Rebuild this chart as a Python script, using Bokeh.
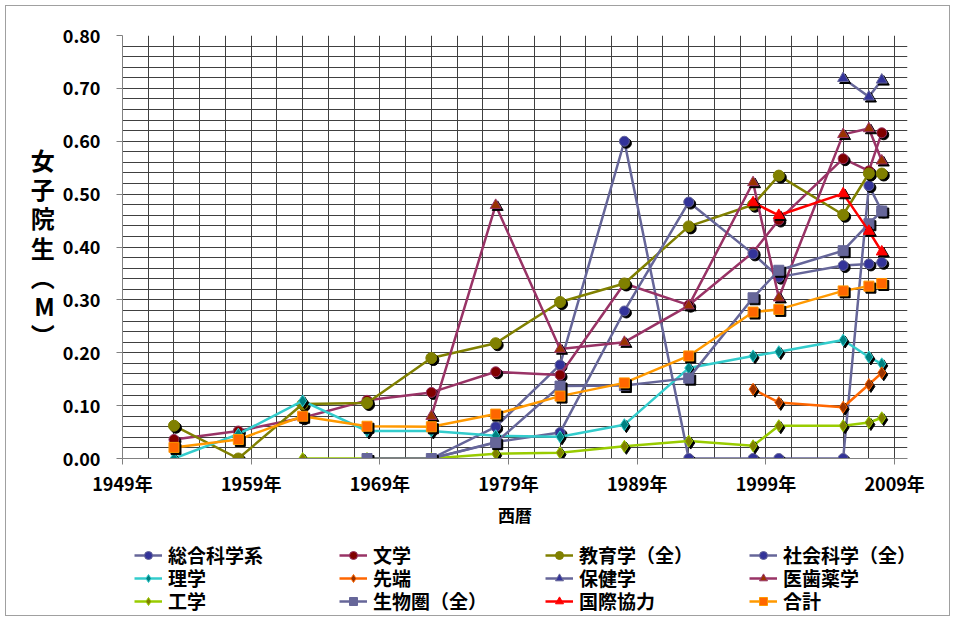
import math
from bokeh.plotting import figure
from bokeh.models import (ColumnDataSource, FixedTicker, SingleIntervalTicker,
                          PrintfTickFormatter, Legend, LegendItem)
from bokeh.transform import dodge
from bokeh.embed import file_html
from bokeh.resources import INLINE

nan = float("nan")

years = [1953, 1958, 1963, 1968, 1973, 1978, 1983, 1988, 1993, 1998, 2000, 2005, 2007, 2008]
x_ticks = [1949, 1959, 1969, 1979, 1989, 1999, 2009]

names = ["総合科学系", "文学", "教育学（全）", "社会科学（全）",
         "理学", "先端", "保健学", "医歯薬学",
         "工学", "生物圏（全）", "国際協力", "合計"]

sogo = [nan, nan, nan, nan, 0.0, 0.060, 0.177, 0.600, 0.0, 0.0, 0.0, 0.0, 0.516, 0.468]
bungaku = [0.036, 0.052, 0.077, 0.110, 0.125, 0.164, 0.158, 0.331, 0.290, 0.390, 0.451, 0.567, 0.544, 0.616]
kyoiku = [0.062, 0.0, 0.103, 0.105, 0.190, 0.218, 0.296, 0.331, 0.439, 0.480, 0.535, 0.461, 0.539, 0.539]
shakai = [nan, nan, nan, nan, 0.0, 0.031, 0.049, 0.279, 0.485, 0.387, 0.343, 0.365, 0.368, 0.371]
rigaku = [0.0, 0.046, 0.109, 0.052, 0.052, 0.043, 0.041, 0.064, 0.171, 0.194, 0.202, 0.224, 0.192, 0.179]
sentan = [nan, nan, nan, nan, nan, nan, nan, nan, nan, 0.131, 0.106, 0.097, 0.140, 0.162]
hoken = [nan, nan, nan, nan, nan, nan, nan, nan, nan, nan, nan, 0.719, 0.684, 0.716]
ishi = [nan, nan, nan, nan, 0.080, 0.479, 0.207, 0.220, 0.289, 0.522, 0.304, 0.613, 0.624, 0.563]
kogaku = [nan, nan, 0.0, 0.0, 0.0, 0.009, 0.011, 0.023, 0.033, 0.024, 0.062, 0.062, 0.068, 0.077]
seibutsu = [nan, nan, nan, 0.0, 0.0, 0.030, 0.137, 0.138, 0.152, 0.304, 0.356, 0.393, 0.444, 0.468]
kokusai = [nan, nan, nan, nan, nan, nan, nan, nan, nan, 0.484, 0.460, 0.501, 0.430, 0.391]
gokei = [0.021, 0.036, 0.080, 0.061, 0.060, 0.084, 0.118, 0.143, 0.194, 0.277, 0.282, 0.317, 0.326, 0.331]

series_values = [sogo, bungaku, kyoiku, shakai, rigaku, sentan, hoken, ishi,
                 kogaku, seibutsu, kokusai, gokei]

# style: (line color, marker, marker fill, marker edge, size)
styles = [
    ("#666699", "circle", "#333399", "#666699", 10),
    ("#993366", "circle", "#800000", "#993366", 10),
    ("#808000", "circle", "#808000", "#808000", 11),
    ("#666699", "circle", "#333399", "#666699", 10),
    ("#33CCCC", "diamond", "#008080", "#33CCCC", 12),
    ("#FF6600", "diamond", "#993300", "#FF6600", 12),
    ("#666699", "triangle", "#333399", "#666699", 11),
    ("#993366", "triangle", "#993300", "#993366", 11),
    ("#99CC00", "diamond", "#808000", "#99CC00", 12),
    ("#666699", "square", "#666699", "#666699", 10),
    ("#FF0000", "triangle", "#FF0000", "#FF0000", 11),
    ("#FF9900", "square", "#FF6600", "#FF9900", 10),
]

W = 945
H1 = 533
H2 = 78
ML, MT, FW, FH = 116, 29, 785, 423
MR, MB = W - ML - FW, H1 - MT - FH
X0, X1, Y0, Y1 = 1949, 2010, 0.0, 0.8

FONT = "Noto Sans CJK JP"
BORDER = "1px solid #a0a0a0"

p = figure(width=W, height=H1, x_range=(X0, X1), y_range=(Y0, Y1),
           output_backend="svg", toolbar_location=None,
           min_border_left=ML, min_border_right=MR,
           min_border_top=MT, min_border_bottom=MB)
p.outline_line_color = None
p.background_fill_color = "white"
p.styles = {"border-top": BORDER, "border-left": BORDER, "border-right": BORDER,
            "margin-left": "5px", "margin-top": "5px"}

# grids
p.xgrid.ticker = FixedTicker(ticks=list(range(1949, 2010, 2)))
p.ygrid.ticker = SingleIntervalTicker(interval=0.02)
for g in (p.xgrid, p.ygrid):
    g.grid_line_color = "#404040"
    g.grid_line_width = 1

# axes
p.xaxis.ticker = FixedTicker(ticks=x_ticks)
p.xaxis.formatter = PrintfTickFormatter(format="%d年")
p.yaxis.ticker = SingleIntervalTicker(interval=0.1)
p.yaxis.formatter = PrintfTickFormatter(format="%.2f")
for ax in (p.xaxis, p.yaxis):
    ax.axis_line_color = "#808080"
    ax.axis_line_width = 1
    ax.major_tick_line_color = "#808080"
    ax.major_tick_in = 0
    ax.major_tick_out = 6
    ax.minor_tick_line_color = None
    ax.major_label_text_font = FONT
    ax.major_label_text_font_style = "bold"
    ax.major_label_text_font_size = "18px"
    ax.major_label_text_color = "black"
    ax.axis_label_text_font = FONT
    ax.axis_label_text_font_style = "bold"
    ax.axis_label_text_color = "black"
p.xaxis.major_label_standoff = 5
p.yaxis.major_label_standoff = 16

p.xaxis.axis_label = "西暦"
p.xaxis.axis_label_text_font_size = "17px"
p.xaxis.axis_label_standoff = 3

p.yaxis.axis_label = "女\n子\n院\n生\n︵\nM\n︶"
p.yaxis.axis_label_orientation = "horizontal"
p.yaxis.axis_label_text_font_size = "24px"
p.yaxis.axis_label_text_line_height = 0.83
p.yaxis.axis_label_standoff = 5

px_x = (X1 - X0) / FW
px_y = (Y1 - Y0) / FH

for vals, (lc, mk, mf, me, sz) in zip(series_values, styles):
    src = ColumnDataSource(dict(x=years, y=vals))
    p.line("x", "y", source=src, line_color=lc, line_width=2.5)
    p.scatter(x=dodge("x", 2 * px_x, range=p.x_range),
              y=dodge("y", -2 * px_y, range=p.y_range),
              source=src, marker=mk, size=sz, fill_color="black",
              line_color="black")
    p.scatter("x", "y", source=src, marker=mk, size=sz,
              fill_color=mf, line_color=me, line_width=1)

# legend panel (separate root below the chart)
q = figure(width=W, height=H2, x_range=(0, 1), y_range=(0, 1),
           output_backend="svg", toolbar_location=None,
           x_axis_location=None, y_axis_location=None,
           min_border=0, min_border_left=0, min_border_right=0,
           min_border_top=0, min_border_bottom=0)
q.outline_line_color = None
q.xgrid.visible = False
q.ygrid.visible = False
q.styles = {"border-bottom": BORDER, "border-left": BORDER, "border-right": BORDER,
            "margin-left": "5px"}

leg_renderers = []
for (lc, mk, mf, me, sz) in styles:
    dummy = ColumnDataSource(dict(x=[-5.0, -4.0], y=[-5.0, -5.0]))
    ln = q.line("x", "y", source=dummy, line_color=lc, line_width=2.5)
    sc = q.scatter("x", "y", source=dummy, marker=mk, size=sz - 1, fill_color=mf,
                   line_color=me, line_width=1)
    leg_renderers.append([ln, sc])

col_x = [128, 333, 539, 743]
row_y = [48, 25, 2]
for i, (name, rends) in enumerate(zip(names, leg_renderers)):
    c, r = i % 4, i // 4
    lg = Legend(items=[LegendItem(label=name, renderers=rends)],
                location=(col_x[c], row_y[r]), orientation="vertical",
                margin=0, padding=0, spacing=0,
                glyph_width=28, glyph_height=20, label_height=20,
                label_standoff=6,
                label_text_font=FONT, label_text_font_style="bold",
                label_text_font_size="19px", label_text_color="black",
                background_fill_alpha=0, border_line_color=None)
    q.add_layout(lg, "center")

open("out.html", "w").write(file_html([p, q], INLINE))
